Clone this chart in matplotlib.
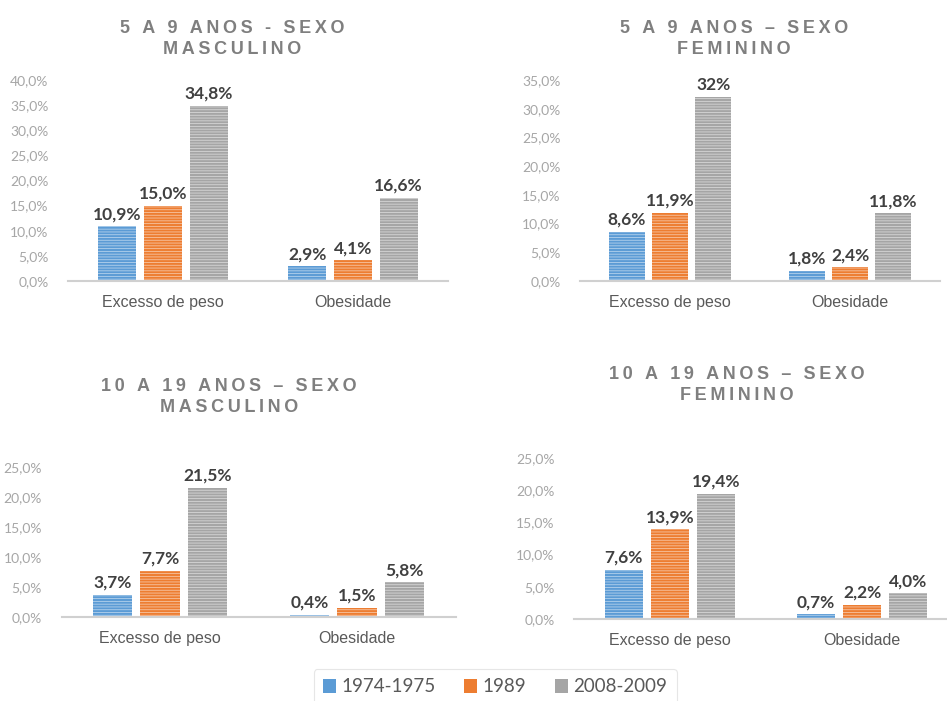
import matplotlib
matplotlib.use("Agg")
import matplotlib.pyplot as plt
from matplotlib.patches import Patch
from matplotlib.ticker import FuncFormatter

categorias = ["Excesso de peso", "Obesidade"]
periodos = ["1974-1975", "1989", "2008-2009"]
cores = ["#5B9BD5", "#ED7D31", "#A5A5A5"]

# rótulos por período: [Excesso de peso, Obesidade]
masc_5_9 = [["10,9", "2,9"], ["15,0", "4,1"], ["34,8", "16,6"]]
fem_5_9 = [["8,6", "1,8"], ["11,9", "2,4"], ["32", "11,8"]]
masc_10_19 = [["3,7", "0,4"], ["7,7", "1,5"], ["21,5", "5,8"]]
fem_10_19 = [["7,6", "0,7"], ["13,9", "2,2"], ["19,4", "4,0"]]

titulos = ["5 A 9 ANOS - SEXO\nMASCULINO", "5 A 9 ANOS \u2013 SEXO\nFEMININO",
           "10 A 19 ANOS \u2013 SEXO\nMASCULINO", "10 A 19 ANOS \u2013 SEXO\nFEMININO"]
ymax = [40, 35, 25, 25]

W, H = 947, 701
fig = plt.figure(figsize=(W / 100, H / 100), dpi=100)
plt.rcParams["hatch.linewidth"] = 0.6


def px(l, r, b, t):
    return [l / W, 1 - b / H, (r - l) / W, (b - t) / H]


def espacado(txt):
    # espaçamento entre letras com espaço fino
    return "\n".join("\u2009".join(linha) for linha in txt.split("\n"))


caixas = [px(68, 448, 281, 80), px(580, 940, 281, 80),
          px(61.5, 455.5, 617, 467), px(574, 958, 619, 458)]
pos_titulo = [(232, 39), (734, 39), (229, 397), (737, 385)]
dados = [masc_5_9, fem_5_9, masc_10_19, fem_10_19]

fmt = FuncFormatter(lambda v, p: f"{v:.1f}".replace(".", ",") + "%")

for k in range(4):
    ax = fig.add_axes(caixas[k])
    for i, serie in enumerate(dados[k]):
        vals = [float(s.replace(",", ".")) for s in serie]
        xs = [c + (i - 1) * 0.24 for c in range(len(categorias))]
        ax.bar(xs, vals, width=0.2, color=cores[i], edgecolor=(1, 1, 1, 0.55),
               linewidth=0, hatch="------", zorder=2)
        for x, v, s in zip(xs, vals, serie):
            ax.annotate(s + "%", (x, v), xytext=(0, 3), textcoords="offset points",
                        ha="center", va="bottom", fontsize=12.5, fontweight="bold",
                        family="Lato", color="#404040")
    ax.set_xlim(-0.5, 1.5)
    ax.set_ylim(0, ymax[k])
    ax.set_yticks(range(0, ymax[k] + 1, 5))
    ax.yaxis.set_major_formatter(fmt)
    ax.set_xticks(range(len(categorias)))
    ax.set_xticklabels(categorias, family="Liberation Sans", fontsize=11.5, color="#595959")
    ax.tick_params(axis="y", length=0, labelsize=10, labelcolor="#a6a6a6", pad=14)
    ax.tick_params(axis="x", length=0, pad=10)
    for t in ax.get_yticklabels():
        t.set_family("Lato")
    for s in ["top", "left", "right"]:
        ax.spines[s].set_visible(False)
    ax.spines["bottom"].set_color("#d0d0d0")
    ax.spines["bottom"].set_linewidth(1.5)
    ax.patch.set_alpha(0)

    tx, ty = pos_titulo[k]
    fig.text(tx / W, 1 - ty / H, espacado(titulos[k]), ha="center", va="center",
             fontsize=13, fontweight="bold", color="#7f7f7f", linespacing=1.25,
             family=["Liberation Sans", "DejaVu Sans"])

handles = [Patch(facecolor=c, label=p) for c, p in zip(cores, periodos)]
leg = fig.legend(handles=handles, loc="center", bbox_to_anchor=(495 / W, 1 - 687 / H),
                 ncol=3, frameon=True, handlelength=0.7, handleheight=0.7,
                 handletextpad=0.3, columnspacing=1.5, borderpad=0.5,
                 prop={"family": "Lato", "size": 13.5})
leg.get_frame().set_edgecolor("#e0e0e0")
leg.get_frame().set_linewidth(0.8)
for t in leg.get_texts():
    t.set_color("#595959")

fig.savefig("out.png", dpi=100)
